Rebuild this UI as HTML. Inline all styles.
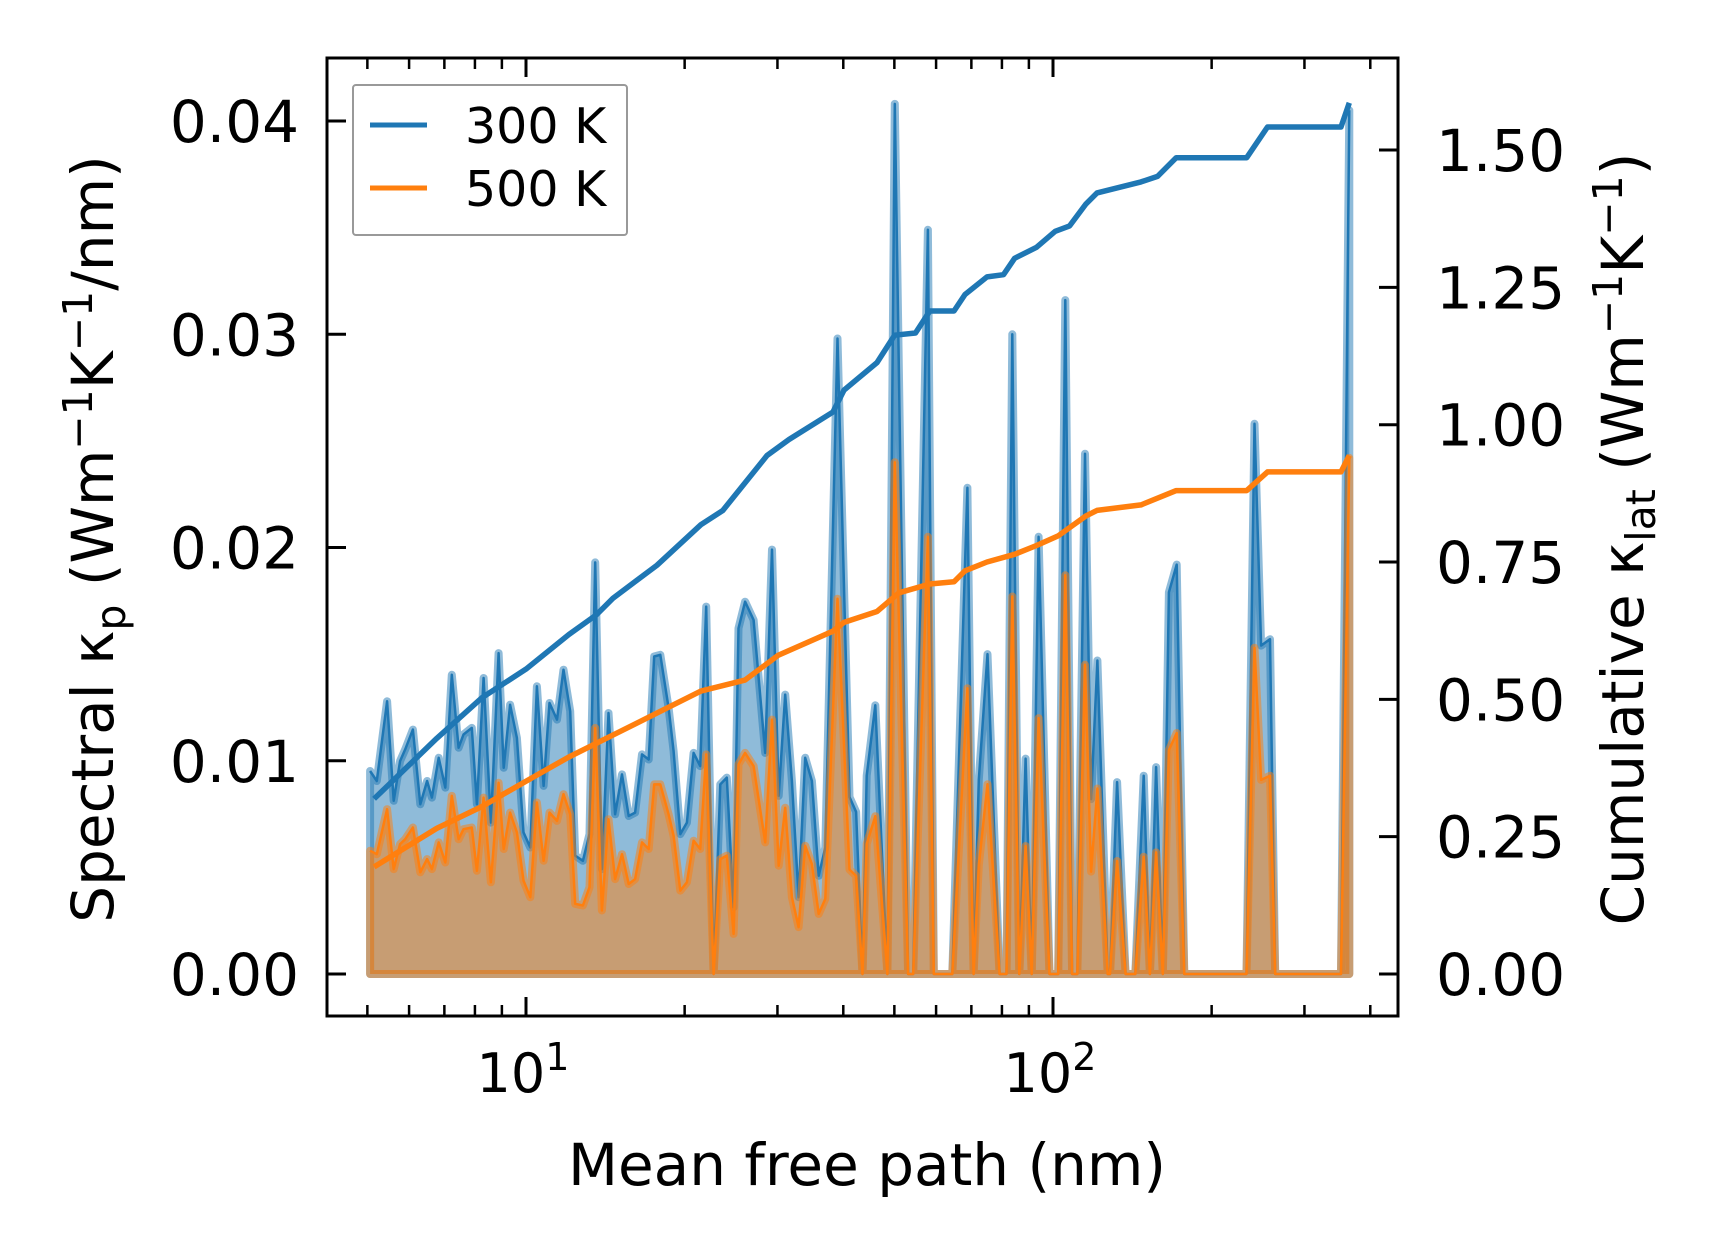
<!DOCTYPE html>
<html><head><meta charset="utf-8">
<style>
html,body{margin:0;padding:0;background:#fff;}
svg text{font-family:"DejaVu Sans","Liberation Sans",sans-serif;fill:#000;}
</style></head>
<body>
<svg id="chart" width="1716" height="1254" viewBox="0 0 1716 1254" xmlns="http://www.w3.org/2000/svg">
<g id="fills"></g>
<g id="cums"></g>
<g id="axes"></g>
<g>
  <rect x="353" y="85" width="274" height="150" fill="#fff" fill-opacity="0.8" stroke="#999" stroke-width="2" rx="3"/>
  <line x1="370" y1="125" x2="427" y2="125" stroke="#1f77b4" stroke-width="5"/>
  <text x="465" y="143" font-size="49">300 K</text>
  <line x1="370" y1="188" x2="427" y2="188" stroke="#ff7f0e" stroke-width="5"/>
  <text x="465" y="206" font-size="49">500 K</text>
</g>
<text x="867" y="1185" font-size="58" text-anchor="middle">Mean free path (nm)</text>
<text transform="translate(113,539) rotate(-90)" font-size="58" text-anchor="middle">Spectral κ<tspan font-size="41" dy="12">p</tspan><tspan dy="-12"> (Wm</tspan><tspan font-size="41" dy="-21">−1</tspan><tspan dy="21">K</tspan><tspan font-size="41" dy="-21">−1</tspan><tspan dy="21">/nm)</tspan></text>
<text transform="translate(1643,539) rotate(-90)" font-size="58" text-anchor="middle">Cumulative κ<tspan font-size="41" dy="12">lat</tspan><tspan dy="-12"> (Wm</tspan><tspan font-size="41" dy="-21">−1</tspan><tspan dy="21">K</tspan><tspan font-size="41" dy="-21">−1</tspan><tspan dy="21">)</tspan></text>
</svg>
<script>
const mfp = [5.06,5.21,5.45,5.61,5.77,5.90,6.10,6.30,6.49,6.63,6.83,7.03,7.23,7.45,7.61,7.89,8.07,8.31,8.58,8.87,9.07,9.33,9.61,9.89,10.19,10.49,10.80,11.08,11.45,11.78,12.13,12.40,12.82,13.20,13.53,13.93,14.34,14.76,15.21,15.66,16.11,16.60,17.09,17.51,17.98,18.65,19.06,19.62,20.20,20.80,21.41,21.98,22.70,23.37,24.05,24.77,25.31,26.05,27.03,28.44,29.29,30.16,31.04,31.96,32.91,33.87,34.88,35.92,36.97,39.0,
41.1,42.3,43.5,44.3,46.0,48.5,50.1,53.1,54.3,57.9,59.4,64.4,68.8,70.7,72.3,75.1,79.2,81.6,83.7,86.3,88.7,91.1,93.9,98.5,102.3,105.5,108.7,111.2,115.0,118.1,121.4,127.0,128.3,132.3,137.3,143.3,148.6,152.7,156.9,161.6,165.9,171.7,177.5,232.9,241.2,248.2,258.1,264.0,352.0,365.0];
const spec300 = [0.00952,0.00905,0.01279,0.00812,0.00999,0.01053,0.01146,0.00796,0.00905,0.00827,0.01014,0.00874,0.01403,0.01061,0.01123,0.01154,0.00796,0.01388,0.00710,0.01505,0.00967,0.01263,0.01107,0.00664,0.00593,0.01349,0.00882,0.01271,0.01193,0.01427,0.01232,0.00555,0.00531,0.00656,0.0193,0.00492,0.01224,0.00749,0.00936,0.00741,0.00757,0.01030,0.01006,0.01489,0.01497,0.01248,0.01045,0.00656,0.00710,0.01037,0.00975,0.01723,0,0.00889,0.00921,0.00313,0.01621,0.01746,0.01660,0.01037,0.0199,0.00835,0.01310,0.00905,0.00360,0.01014,0.00905,0.00461,0.00593,0.0298,
0.0083,0.0076,0,0.0093,0.0126,0,0.0408,0,0,0.0349,0,0,0.0228,0,0.0091,0.0150,0,0,0.0300,0,0.0101,0,0.0205,0,0,0.0316,0,0,0.0244,0.0082,0.0147,0,0,0.0090,0,0,0.0093,0,0.0097,0,0.0179,0.0192,0,0,0.0258,0.0154,0.0157,0,0,0.0405];
const spec500 = [0.00578,0.00562,0.00773,0.00492,0.00609,0.00632,0.00687,0.00477,0.00539,0.00492,0.00617,0.00523,0.00835,0.00632,0.00679,0.00687,0.00484,0.00827,0.00430,0.00897,0.00586,0.00757,0.00664,0.00438,0.00360,0.00804,0.00531,0.00757,0.00718,0.00843,0.00749,0.00329,0.00321,0.00407,0.01154,0.00298,0.00726,0.00445,0.00562,0.00422,0.00445,0.00617,0.00586,0.00889,0.00889,0.00749,0.00648,0.00391,0.00430,0.00625,0.00586,0.01030,0,0.00539,0.00555,0.00188,0.00983,0.01037,0.00975,0.00617,0.01193,0.00508,0.00780,0.00360,0.00220,0.00601,0.00515,0.00282,0.00352,0.0176,
0.0049,0.0046,0,0.0061,0.0074,0,0.0240,0,0,0.0205,0,0,0.0134,0,0.0051,0.0089,0,0,0.0177,0,0.0060,0,0.0120,0,0,0.0187,0,0,0.0145,0.0048,0.0087,0,0,0.0053,0,0,0.0055,0,0.0057,0,0.0105,0.0113,0,0,0.0153,0.0091,0.0093,0,0,0.0242];
const cumX300 = [5.15,6.77,8.25,10,12.06,13.60,14.62,17.72,21.47,23.64,28.66,31.55,38.23,40.13,46.35,50.05,54.83,58.38,64.88,68.07,74.94,80.55,84.54,93.04,100.97,107.5,115.5,121.2,133.4,146.9,157.9,171.3,233.1,255.3,352.0,365.0];
const cum300 = [0.319,0.429,0.503,0.555,0.618,0.654,0.684,0.744,0.818,0.844,0.944,0.973,1.023,1.063,1.113,1.163,1.167,1.207,1.207,1.237,1.269,1.273,1.303,1.323,1.352,1.362,1.402,1.422,1.432,1.442,1.452,1.486,1.486,1.542,1.542,1.586];
const cumX500 = [5.15,6.77,8.25,10,12.06,14.62,17.72,21.47,26.03,30.07,38.23,40.13,46.35,51.03,58.38,64.88,68.07,74.94,84.54,93.04,102.4,115.5,121.2,146.9,171.3,233.1,255.3,352.0,365.0];
const cum500 = [0.195,0.265,0.305,0.351,0.395,0.435,0.475,0.515,0.535,0.580,0.624,0.640,0.660,0.694,0.710,0.714,0.734,0.750,0.764,0.780,0.798,0.834,0.844,0.854,0.880,0.880,0.914,0.914,0.944];
const leftTicks = [0,0.01,0.02,0.03,0.04];
const leftTickLabels = ["0.00","0.01","0.02","0.03","0.04"];
const rightTicks = [0,0.25,0.5,0.75,1.0,1.25,1.5];
const rightTickLabels = ["0.00","0.25","0.50","0.75","1.00","1.25","1.50"];
const xMajor = [10,100];
const xMinor = [5,6,7,8,9,20,30,40,50,60,70,80,90,200,300,400];

const L=327,R=1398,T=58,B=1016;
const X = v => 526 + (Math.log10(v)-1)*527;
const YL = v => 974 - v*21325;
const YR = v => 974 - v*549.3;
const NS="http://www.w3.org/2000/svg";
function mk(tag, parent, attrs){const e=document.createElementNS(NS,tag);for(const k in attrs)e.setAttribute(k,attrs[k]);parent.appendChild(e);return e;}

const fills=document.getElementById('fills');
function series(vals,color,name){
  const pts=mfp.map((m,i)=>X(m).toFixed(1)+','+YL(vals[i]).toFixed(1));
  const poly=pts.join(' ')+' '+X(mfp[mfp.length-1]).toFixed(1)+','+YL(0)+' '+X(mfp[0]).toFixed(1)+','+YL(0);
  const f=mk('polygon',fills,{points:poly,fill:color,'fill-opacity':0.5,stroke:color,'stroke-opacity':0.5,'stroke-width':8,'stroke-linejoin':'round'});
  
  
  const l=mk('polyline',fills,{points:pts.join(' '),fill:'none',stroke:color,'stroke-width':2.5,'stroke-linejoin':'round'});
  
  
}
series(spec300,'#1f77b4','spectral-300k');
series(spec500,'#ff7f0e','spectral-500k');

const cums=document.getElementById('cums');
function cum(xs,vals,color,name){
  const pts=xs.map((m,i)=>X(m).toFixed(1)+','+YR(vals[i]).toFixed(1)).join(' ');
  const l=mk('polyline',cums,{points:pts,fill:'none',stroke:color,'stroke-width':5.5,'stroke-linejoin':'round'});
  
  
}
cum(cumX300,cum300,'#1f77b4','cumulative-300k');
cum(cumX500,cum500,'#ff7f0e','cumulative-500k');

const ax=document.getElementById('axes');
const frame=mk('rect',ax,{x:L,y:T,width:R-L,height:B-T,fill:'none',stroke:'#000','stroke-width':3});


leftTicks.forEach((v,i)=>{
  const y=YL(v);
  const t=mk('line',ax,{x1:L,y1:y,x2:L+19,y2:y,stroke:'#000','stroke-width':3});
  
  
  const tx=mk('text',ax,{x:299,y:y+21,'font-size':58,'text-anchor':'end'});
  tx.textContent=leftTickLabels[i];
  
  
});
rightTicks.forEach((v,i)=>{
  const y=YR(v);
  const t=mk('line',ax,{x1:R,y1:y,x2:R-19,y2:y,stroke:'#000','stroke-width':3});
  
  
  const tx=mk('text',ax,{x:1436,y:y+21,'font-size':58});
  tx.textContent=rightTickLabels[i];
  
  
});
xMajor.forEach((v,i)=>{
  const x=X(v);
  [[B,B-19],[T,T+19]].forEach(p=>{
    const t=mk('line',ax,{x1:x,y1:p[0],x2:x,y2:p[1],stroke:'#000','stroke-width':3});
    
    
  });
  const tx=mk('text',ax,{x:x-3,y:1092,'font-size':54,'text-anchor':'middle'});
  tx.innerHTML='10<tspan font-size="38" dy="-22">'+(i+1)+'</tspan>';
  
  
});
xMinor.forEach(v=>{
  const x=X(v);
  [[B,B-11],[T,T+11]].forEach(p=>{
    const t=mk('line',ax,{x1:x,y1:p[0],x2:x,y2:p[1],stroke:'#000','stroke-width':2.5});
    
    
  });
});
</script>
</body></html>
